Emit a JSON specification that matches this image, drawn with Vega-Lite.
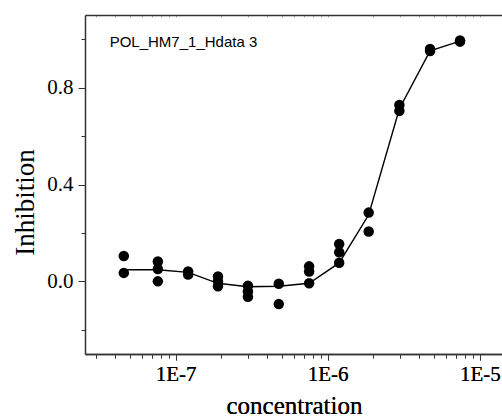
{
  "$schema": "https://vega.github.io/schema/vega-lite/v6.json",
  "width": 418,
  "height": 339,
  "autosize": {"type": "none"},
  "padding": {"left": 85, "top": 15, "right": 0, "bottom": 64},
  "background": "white",
  "datasets": {
    "replicates": [
      {"conc": 4.57e-8, "inhibition": 0.105},
      {"conc": 4.57e-8, "inhibition": 0.035},
      {"conc": 7.65e-8, "inhibition": 0.082},
      {"conc": 7.65e-8, "inhibition": 0.051},
      {"conc": 7.65e-8, "inhibition": 0.0},
      {"conc": 1.21e-7, "inhibition": 0.041},
      {"conc": 1.21e-7, "inhibition": 0.028},
      {"conc": 1.9e-7, "inhibition": 0.02},
      {"conc": 1.9e-7, "inhibition": 0.0},
      {"conc": 1.9e-7, "inhibition": -0.02},
      {"conc": 2.99e-7, "inhibition": -0.018},
      {"conc": 2.99e-7, "inhibition": -0.042},
      {"conc": 2.99e-7, "inhibition": -0.064},
      {"conc": 4.77e-7, "inhibition": -0.01},
      {"conc": 4.77e-7, "inhibition": -0.094},
      {"conc": 7.55e-7, "inhibition": 0.062},
      {"conc": 7.55e-7, "inhibition": 0.041},
      {"conc": 7.55e-7, "inhibition": -0.008},
      {"conc": 1.19e-6, "inhibition": 0.154},
      {"conc": 1.19e-6, "inhibition": 0.12},
      {"conc": 1.19e-6, "inhibition": 0.077},
      {"conc": 1.86e-6, "inhibition": 0.284},
      {"conc": 1.86e-6, "inhibition": 0.206},
      {"conc": 2.96e-6, "inhibition": 0.728},
      {"conc": 2.96e-6, "inhibition": 0.704},
      {"conc": 4.71e-6, "inhibition": 0.96},
      {"conc": 4.71e-6, "inhibition": 0.951},
      {"conc": 7.41e-6, "inhibition": 0.995},
      {"conc": 7.41e-6, "inhibition": 0.99}
    ],
    "curve": [
      {"conc": 4.57e-8, "inhibition": 0.048},
      {"conc": 7.65e-8, "inhibition": 0.048},
      {"conc": 1.21e-7, "inhibition": 0.037},
      {"conc": 1.9e-7, "inhibition": -0.008},
      {"conc": 2.99e-7, "inhibition": -0.022},
      {"conc": 4.77e-7, "inhibition": -0.02},
      {"conc": 7.55e-7, "inhibition": -0.008},
      {"conc": 1.19e-6, "inhibition": 0.076},
      {"conc": 1.86e-6, "inhibition": 0.275},
      {"conc": 2.96e-6, "inhibition": 0.713},
      {"conc": 4.71e-6, "inhibition": 0.952},
      {"conc": 7.41e-6, "inhibition": 0.992}
    ],
    "caption": [
      {"label": "POL_HM7_1_Hdata 3", "conc": 3.69e-8, "inhibition": 0.969}
    ]
  },
  "config": {
    "font": "Liberation Serif",
    "view": {"stroke": null},
    "style": {
      "guide-label": {"font": "Liberation Serif", "fontSize": 21, "fill": "black"},
      "guide-title": {"font": "Liberation Serif", "fontWeight": "normal", "fill": "black"}
    },
    "axis": {
      "grid": false,
      "domainColor": "#333",
      "domainWidth": 1.5,
      "tickColor": "#333",
      "tickWidth": 1,
      "labelColor": "black",
      "labelFont": "Liberation Serif",
      "labelFontSize": 21,
      "titleFont": "Liberation Serif",
      "titleFontWeight": "normal",
      "titleColor": "black"
    }
  },
  "encoding": {
    "x": {
      "field": "conc",
      "type": "quantitative",
      "scale": {"type": "log", "domain": [2.54e-8, 1.42e-5], "nice": false, "zero": false},
      "axis": {
        "title": "concentration",
        "titleFontSize": 25,
        "titleBaseline": "alphabetic",
        "titleY": 59,
        "values": [3e-8, 4e-8, 5e-8, 6e-8, 7e-8, 8e-8, 9e-8, 1e-7, 2e-7, 3e-7, 4e-7, 5e-7, 6e-7, 7e-7, 8e-7, 9e-7, 1e-6, 2e-6, 3e-6, 4e-6, 5e-6, 6e-6, 7e-6, 8e-6, 9e-6, 1e-5],
        "labelExpr": "abs(log(datum.value) / LN10 - round(log(datum.value) / LN10)) < 0.001 ? '1E' + round(log(datum.value) / LN10) : ''",
        "labelPadding": 3,
        "labelFlush": false,
        "labelOverlap": false,
        "tickSize": {"condition": {"test": "abs(log(datum.value) / LN10 - round(log(datum.value) / LN10)) < 0.001", "value": 6}, "value": 4}
      }
    },
    "y": {
      "field": "inhibition",
      "type": "quantitative",
      "scale": {"domain": [-0.3, 1.1], "nice": false, "zero": false},
      "axis": {
        "title": "Inhibition",
        "titleFontSize": 27,
        "titleBaseline": "alphabetic",
        "titleX": -52,
        "titleY": 187,
        "values": [-0.2, 0, 0.2, 0.4, 0.6, 0.8, 1.0],
        "labelExpr": "abs(round(datum.value * 10)) % 4 == 0 ? format(datum.value, '.1f') : ''",
        "labelPadding": 5,
        "labelOverlap": false,
        "labelFlush": false,
        "tickSize": {"condition": {"test": "abs(round(datum.value * 10)) % 4 == 0", "value": 7}, "value": 4}
      }
    }
  },
  "layer": [
    {
      "data": {"name": "curve"},
      "mark": {"type": "line", "color": "black", "strokeWidth": 1.4},
      "encoding": {
        "x": {"field": "conc", "type": "quantitative", "axis": {
          "orient": "top", "title": null, "labels": false, "domainColor": "#333", "domainWidth": 1.5,
          "values": [3e-8, 4e-8, 5e-8, 6e-8, 7e-8, 8e-8, 9e-8, 1e-7, 2e-7, 3e-7, 4e-7, 5e-7, 6e-7, 7e-7, 8e-7, 9e-7, 1e-6, 2e-6, 3e-6, 4e-6, 5e-6, 6e-6, 7e-6, 8e-6, 9e-6, 1e-5],
          "tickSize": -2, "tickColor": "#aaa"
        }}
      }
    },
    {
      "data": {"name": "replicates"},
      "mark": {"type": "circle", "color": "black", "opacity": 1, "size": 110}
    },
    {
      "data": {"name": "caption"},
      "mark": {"type": "text", "font": "Liberation Sans", "fontSize": 15, "align": "left", "baseline": "alphabetic", "color": "black"},
      "encoding": {
        "text": {"field": "label", "type": "nominal"}
      }
    }
  ],
  "resolve": {"axis": {"x": "independent"}}
}
